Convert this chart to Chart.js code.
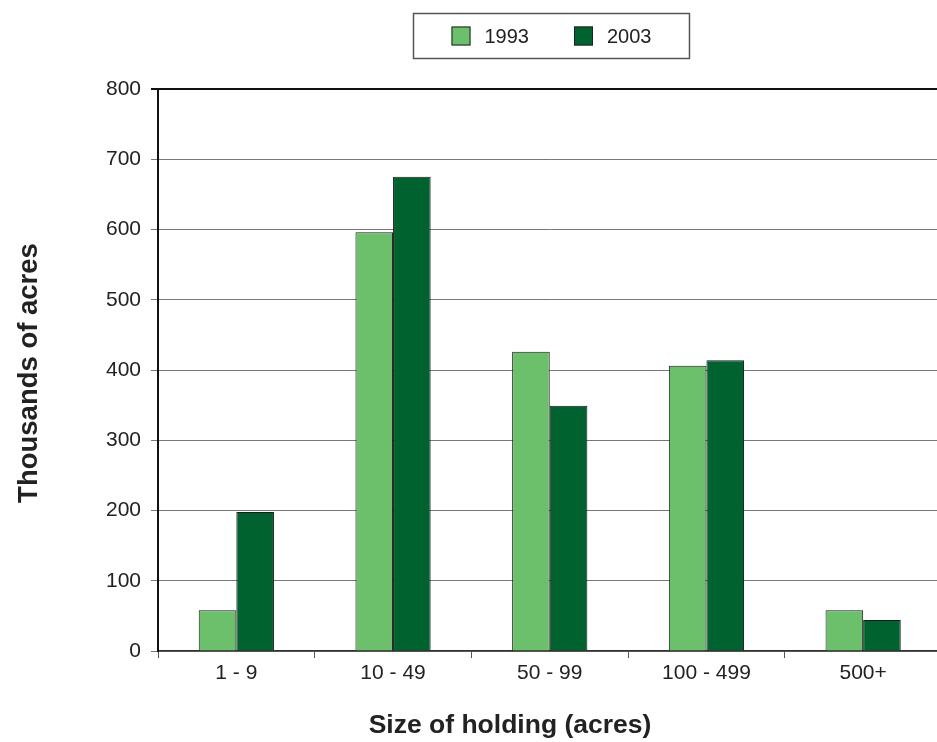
<!DOCTYPE html>
<html>
<head>
<meta charset="utf-8">
<script src="https://cdn.jsdelivr.net/npm/chart.js@4/dist/chart.umd.min.js"></script>
<style>
  html, body { margin: 0; padding: 0; background: #fff; overflow: hidden; }
  #wrap { width: 937px; height: 742px; overflow: hidden; }
  #wrap canvas { display: block; }
</style>
</head>
<body>
<div id="wrap"><canvas id="holdings" width="950" height="742"></canvas></div>
<script>
const CATEGORIES = ['1 - 9', '10 - 49', '50 - 99', '100 - 499', '500+'];
const SERIES_NAMES = ['1993', '2003'];
const VALUES_1993 = [58, 596, 426, 406, 58];
const VALUES_2003 = [198, 675, 349, 414, 44];
const Y_TICKS = [0, 100, 200, 300, 400, 500, 600, 700, 800];
const X_TITLE = 'Size of holding (acres)';
const Y_TITLE = 'Thousands of acres';

const FONT = 'Liberation Sans, Arial, Helvetica, sans-serif';

// boxed legend drawn above the plot, like the original
const boxedLegend = {
    id: 'boxedLegend',
    afterDraw(chart) {
        const ctx = chart.ctx;
        const sw = 19, gapText = 14, gapItem = 45, padX = 38;
        ctx.save();
        ctx.font = '20px ' + FONT;
        const widths = chart.data.datasets.map(d => ctx.measureText(d.label).width);
        let inner = 0;
        widths.forEach((w, i) => { inner += sw + gapText + w + (i ? gapItem : 0); });
        const boxW = inner + padX * 2, boxH = 45;
        const cx = (chart.chartArea.left + chart.chartArea.right) / 2 + 1;
        const bx = Math.round(cx - boxW / 2) + 0.5, by = 13.5;
        ctx.strokeStyle = '#555';
        ctx.lineWidth = 1.5;
        ctx.strokeRect(bx, by, boxW, boxH);
        let x = bx + padX;
        const cy = by + boxH / 2;
        chart.data.datasets.forEach((d, i) => {
            ctx.fillStyle = d.backgroundColor;
            ctx.fillRect(x, cy - sw / 2, sw, sw);
            ctx.strokeStyle = '#222';
            ctx.lineWidth = 1;
            ctx.strokeRect(x + 0.5, cy - sw / 2 + 0.5, sw - 1, sw - 1);
            x += sw + gapText;
            ctx.fillStyle = '#222';
            ctx.textBaseline = 'middle';
            ctx.fillText(d.label, x, cy + 1);
            x += widths[i] + gapItem;
        });
        ctx.restore();
    }
};

// axis titles, placed where the original has them (x title sits left of centre)
const axisTitles = {
    id: 'axisTitles',
    afterDraw(chart) {
        const ctx = chart.ctx;
        ctx.save();
        ctx.fillStyle = '#222';
        ctx.textAlign = 'center';
        ctx.textBaseline = 'alphabetic';
        ctx.font = 'bold 26.5px ' + FONT;
        ctx.fillText(X_TITLE, 510, 733);
        ctx.translate(37, 373);
        ctx.rotate(-Math.PI / 2);
        ctx.font = 'bold 27.5px ' + FONT;
        ctx.fillText(Y_TITLE, 0, 0);
        ctx.restore();
    }
};

const ctx = document.getElementById('holdings').getContext('2d');
new Chart(ctx, {
    type: 'bar',
    data: {
        labels: CATEGORIES,
        datasets: [
            { label: SERIES_NAMES[0], data: VALUES_1993, backgroundColor: '#6cc06b', borderColor: '#1a1a1a', borderWidth: 1 },
            { label: SERIES_NAMES[1], data: VALUES_2003, backgroundColor: '#00622f', borderColor: '#1a1a1a', borderWidth: 1 },
        ],
    },
    options: {
        responsive: false,
        animation: false,
        layout: { padding: { top: 89, right: 8.5, bottom: 0, left: 0 } },
        plugins: { legend: { display: false }, tooltip: { enabled: false } },
        datasets: { bar: { categoryPercentage: 0.48, barPercentage: 1 } },
        scales: {
            x: {
                grid: { display: true, drawOnChartArea: false, drawTicks: true, offset: true, tickLength: 7, color: '#555' },
                border: { display: true, color: '#333', width: 1.5 },
                ticks: { color: '#222', font: { family: FONT, size: 21 }, padding: 3 },
                afterFit: s => { s.height = 91; },
            },
            y: {
                min: 0,
                max: 800,
                afterBuildTicks: s => { s.ticks = Y_TICKS.map(v => ({ value: v })); },
                grid: {
                    color: c => (c.tick && c.tick.value === 800 ? '#111' : '#777'),
                    lineWidth: c => (c.tick && c.tick.value === 800 ? 2 : 1),
                    tickLength: 7,
                },
                border: { display: true, color: '#111', width: 2 },
                ticks: { color: '#222', font: { family: FONT, size: 21 }, padding: 10 },
                afterFit: s => { s.width = 158; },
            },
        },
    },
    plugins: [boxedLegend, axisTitles],
});
</script>
</body>
</html>
